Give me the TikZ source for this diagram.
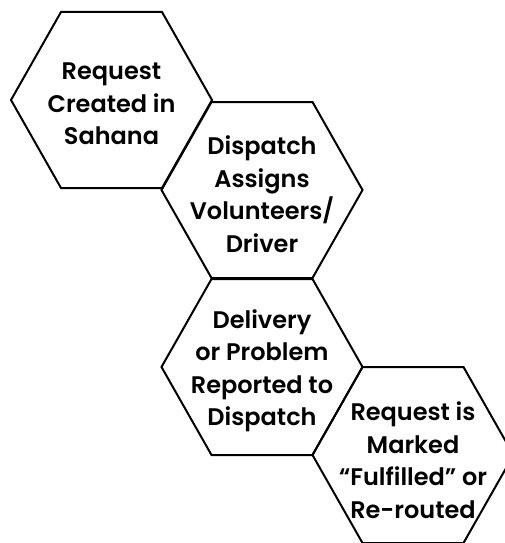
\documentclass[tikz,border=0pt]{standalone}
\usepackage{fontspec}
\setmainfont{Poppins}[UprightFont=* SemiBold]
\begin{document}
\begin{tikzpicture}[x=1pt,y=-1pt,
  hexline/.style={draw=black,line width=2pt,line join=miter},
  hextext/.style={align=center,font=\fontsize{24}{32.5}\selectfont,inner sep=0pt,text=black}]
\useasboundingbox (0,0) rectangle (505,543);
\newcommand{\myhex}[2]{\draw[hexline] (#1-100.5,#2) -- (#1-50.5,#2-88) -- (#1+50.5,#2-88) -- (#1+100.5,#2) -- (#1+50.5,#2+88) -- (#1-50.5,#2+88) -- cycle;}
\begin{scope}
\clip (0,0) rectangle (505,543);
\myhex{111.5}{100}
\myhex{262}{190}
\myhex{262}{367}
\myhex{413}{455}
\end{scope}
\node[hextext] (n1) at (111.5,104) {Request\\Created in\\Sahana};
\node[hextext] (n2) at (262,194) {Dispatch\\Assigns\\Volunteers/\\Driver};
\node[hextext] (n3) at (262,371) {Delivery\\or Problem\\Reported to\\Dispatch};
\node[hextext] (n4) at (413,460) {Request is\\Marked\\“Fulfilled” or\\Re-routed};
\end{tikzpicture}
\end{document}
